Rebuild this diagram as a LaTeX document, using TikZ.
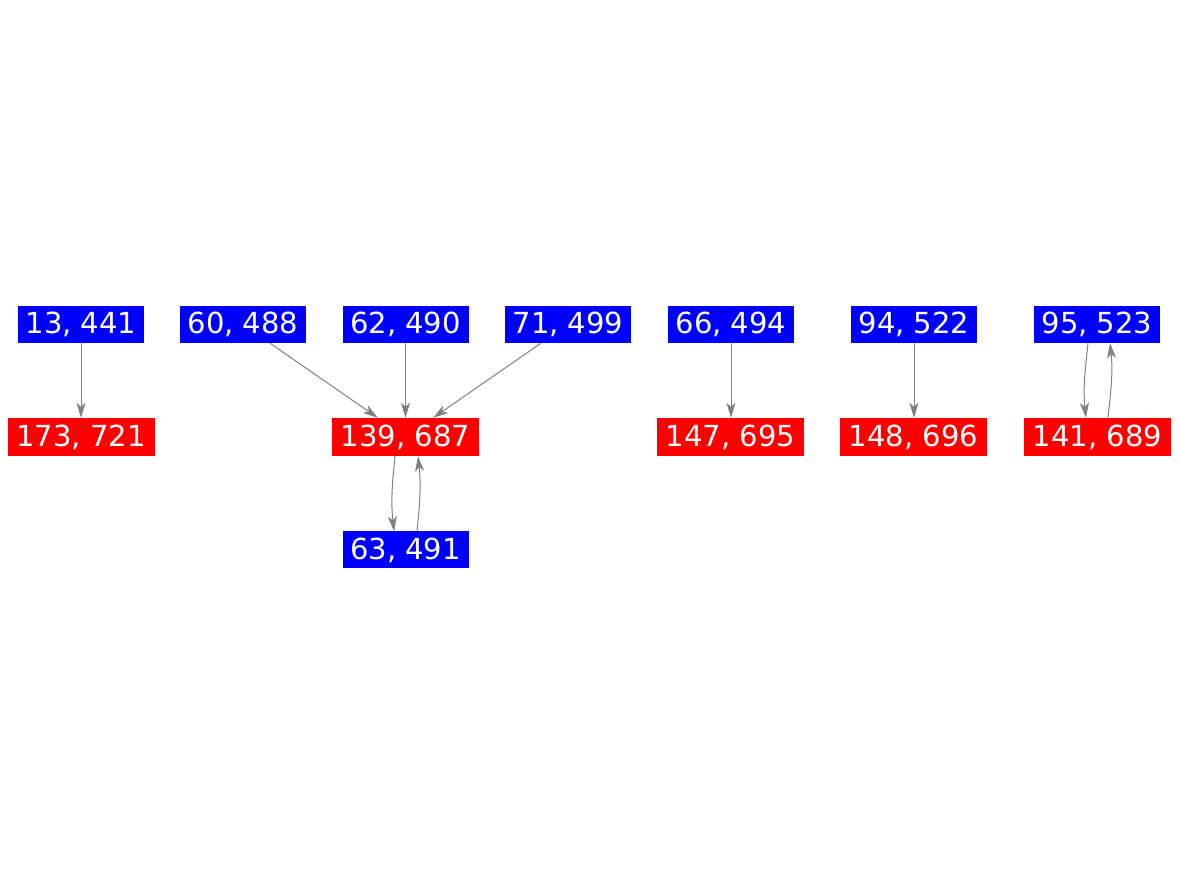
\documentclass[tikz,border=0pt]{standalone}
\usepackage{fontspec}
\setmainfont{DejaVu Sans}
\usetikzlibrary{arrows.meta}
\definecolor{nblue}{RGB}{0,0,255}
\definecolor{nred}{RGB}{255,0,0}
\definecolor{egray}{RGB}{128,128,128}
\tikzset{
  bnode/.style={fill=nblue, text=white, inner sep=0pt, minimum width=126pt, minimum height=37pt, font=\fontsize{29}{33}\selectfont},
  rnode/.style={fill=nred, text=white, inner sep=0pt, minimum width=147pt, minimum height=38pt, font=\fontsize{29}{33}\selectfont},
  edge/.style={draw=egray, line width=1pt, -{Stealth[length=15pt,width=9pt,inset=4pt]}}
}
\begin{document}
\begin{tikzpicture}[x=1pt,y=1pt]
\useasboundingbox (0,0) rectangle (1179,875);
\node[bnode] (n13) at (81,550.5) {13, 441};
\node[bnode] (n60) at (243,550.5) {60, 488};
\node[bnode] (n62) at (405.5,550.5) {62, 490};
\node[bnode] (n71) at (568,550.5) {71, 499};
\node[bnode] (n66) at (731,550.5) {66, 494};
\node[bnode] (n94) at (914,550.5) {94, 522};
\node[bnode] (n95) at (1097,550.5) {95, 523};
\node[rnode] (n173) at (81,438) {173, 721};
\node[rnode] (n139) at (405.5,438) {139, 687};
\node[rnode] (n147) at (730.5,438) {147, 695};
\node[rnode] (n148) at (913.5,438) {148, 696};
\node[rnode] (n141) at (1097.5,438) {141, 689};
\node[bnode] (n63) at (405.5,325) {63, 491};
\draw[edge] (n13) -- (n173);
\draw[edge] (n60) -- (n139);
\draw[edge] (n62) -- (n139);
\draw[edge] (n71) -- (n139);
\draw[edge] (n66.south) -- (n147.north -| n66.south);
\draw[edge] (n94.south) -- (n148.north -| n94.south);
\draw[edge] ([xshift=-10.5pt]n139.south) to[out=264,in=96] ([xshift=-11.5pt]n63.north);
\draw[edge] ([xshift=11.5pt]n63.north) to[out=84,in=-84] ([xshift=12.5pt]n139.south);
\draw[edge] ([xshift=-9pt]n95.south) to[out=264,in=96] ([xshift=-11.5pt]n141.north);
\draw[edge] ([xshift=10.5pt]n141.north) to[out=84,in=-84] ([xshift=13pt]n95.south);
\end{tikzpicture}
\end{document}
